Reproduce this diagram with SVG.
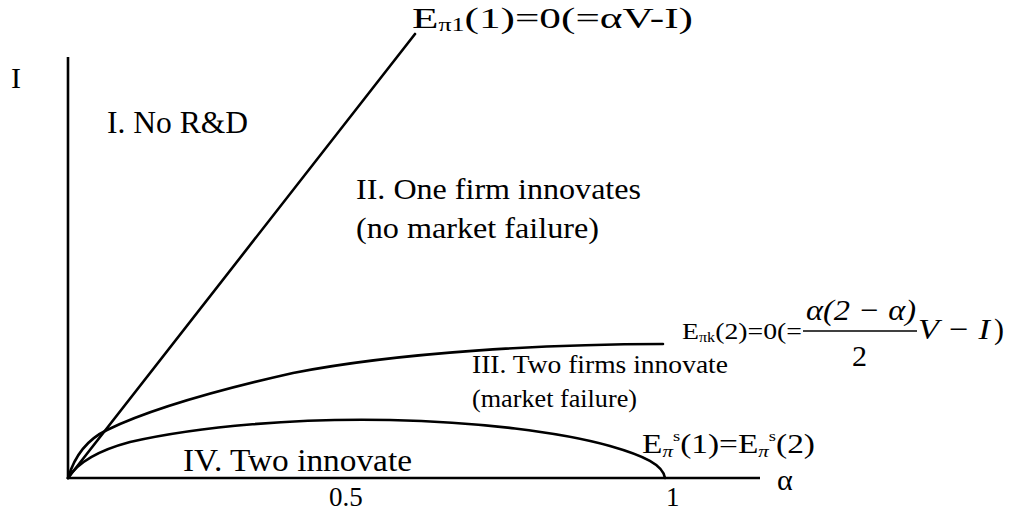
<svg xmlns="http://www.w3.org/2000/svg" width="1009" height="514" viewBox="0 0 1009 514">
<style>
.ax{stroke:#000;stroke-width:2.6;fill:none}
.cv{stroke:#000;stroke-width:2.6;fill:none;stroke-linecap:round}
.bar{stroke:#000;stroke-width:1.6}
</style>
<rect width="1009" height="514" fill="#fff"/>
<g id="axes">
<line class="ax" x1="68" y1="57" x2="68" y2="479"/>
<line class="ax" x1="67" y1="478" x2="760" y2="478"/>
</g>
<g id="curves">
<line class="cv" x1="68" y1="478" x2="415" y2="34"/>
<path class="cv" d="M68,478 C74,458 86,440 107,430 C140,414 200,394 293,373 C400,352 550,344 663,344"/>
<path class="cv" d="M68,478 C78,462 100,450 130,442 C200,426 300,418 390,420 C480,422 560,432 610,446 C645,456 663,465 665,478"/>
</g>
<g id="axis-labels" font-family="Liberation Serif" fill="#000">
<text font-family="Liberation Serif" x="11" y="88" font-size="30">I</text>
<text font-family="Liberation Serif" x="777" y="490" font-size="30">&#945;</text>
<text font-family="Liberation Serif" x="329" y="506" font-size="27">0.5</text>
<text font-family="Liberation Serif" x="666" y="506" font-size="27">1</text>
</g>
<g id="region-labels" font-family="Liberation Serif" fill="#000">
<text font-family="Liberation Serif" x="107" y="133" font-size="31" textLength="141" lengthAdjust="spacingAndGlyphs">I. No R&amp;D</text>
<text font-family="Liberation Serif" x="356" y="199" font-size="30" textLength="285" lengthAdjust="spacingAndGlyphs">II. One firm innovates</text>
<text font-family="Liberation Serif" x="356" y="238" font-size="30" textLength="243" lengthAdjust="spacingAndGlyphs">(no market failure)</text>
<text font-family="Liberation Serif" x="472" y="373" font-size="26" textLength="256" lengthAdjust="spacingAndGlyphs">III. Two firms innovate</text>
<text font-family="Liberation Serif" x="472" y="407" font-size="26" textLength="165" lengthAdjust="spacingAndGlyphs">(market failure)</text>
<text font-family="Liberation Serif" x="183" y="471" font-size="32" textLength="229" lengthAdjust="spacingAndGlyphs">IV. Two innovate</text>
</g>
<g id="curve-labels" font-family="Liberation Serif" fill="#000">
<text font-family="Liberation Serif" x="412" y="28" font-size="30" textLength="281" lengthAdjust="spacingAndGlyphs">E<tspan font-size="18" dy="3">&#960;1</tspan><tspan dy="-3">(1)=0(=&#945;V-I)</tspan></text>
<text font-family="Liberation Serif" x="682" y="339" font-size="24" textLength="120" lengthAdjust="spacingAndGlyphs">E<tspan font-size="14" dy="3">&#960;k</tspan><tspan dy="-3">(2)=0(=</tspan></text>
<text font-family="Liberation Serif" font-style="italic" x="806" y="320" font-size="30" textLength="110" lengthAdjust="spacingAndGlyphs">&#945;(2 &#8722; &#945;)</text>
<line class="bar" x1="803" y1="331" x2="917" y2="331"/>
<text font-family="Liberation Serif" x="852" y="366" font-size="30">2</text>
<text font-family="Liberation Serif" font-style="italic" x="918" y="339" font-size="30" textLength="72" lengthAdjust="spacingAndGlyphs">V &#8722; I</text>
<text font-family="Liberation Serif" x="994" y="339" font-size="30">)</text>
<text font-family="Liberation Serif" x="642" y="453" font-size="27" textLength="173" lengthAdjust="spacingAndGlyphs">E<tspan font-size="17" dy="4" font-style="italic">&#960;</tspan><tspan font-size="15" dy="-16">s</tspan><tspan dy="12">(1)=E</tspan><tspan font-size="17" dy="4" font-style="italic">&#960;</tspan><tspan font-size="15" dy="-16">s</tspan><tspan dy="12">(2)</tspan></text>
</g>
</svg>
